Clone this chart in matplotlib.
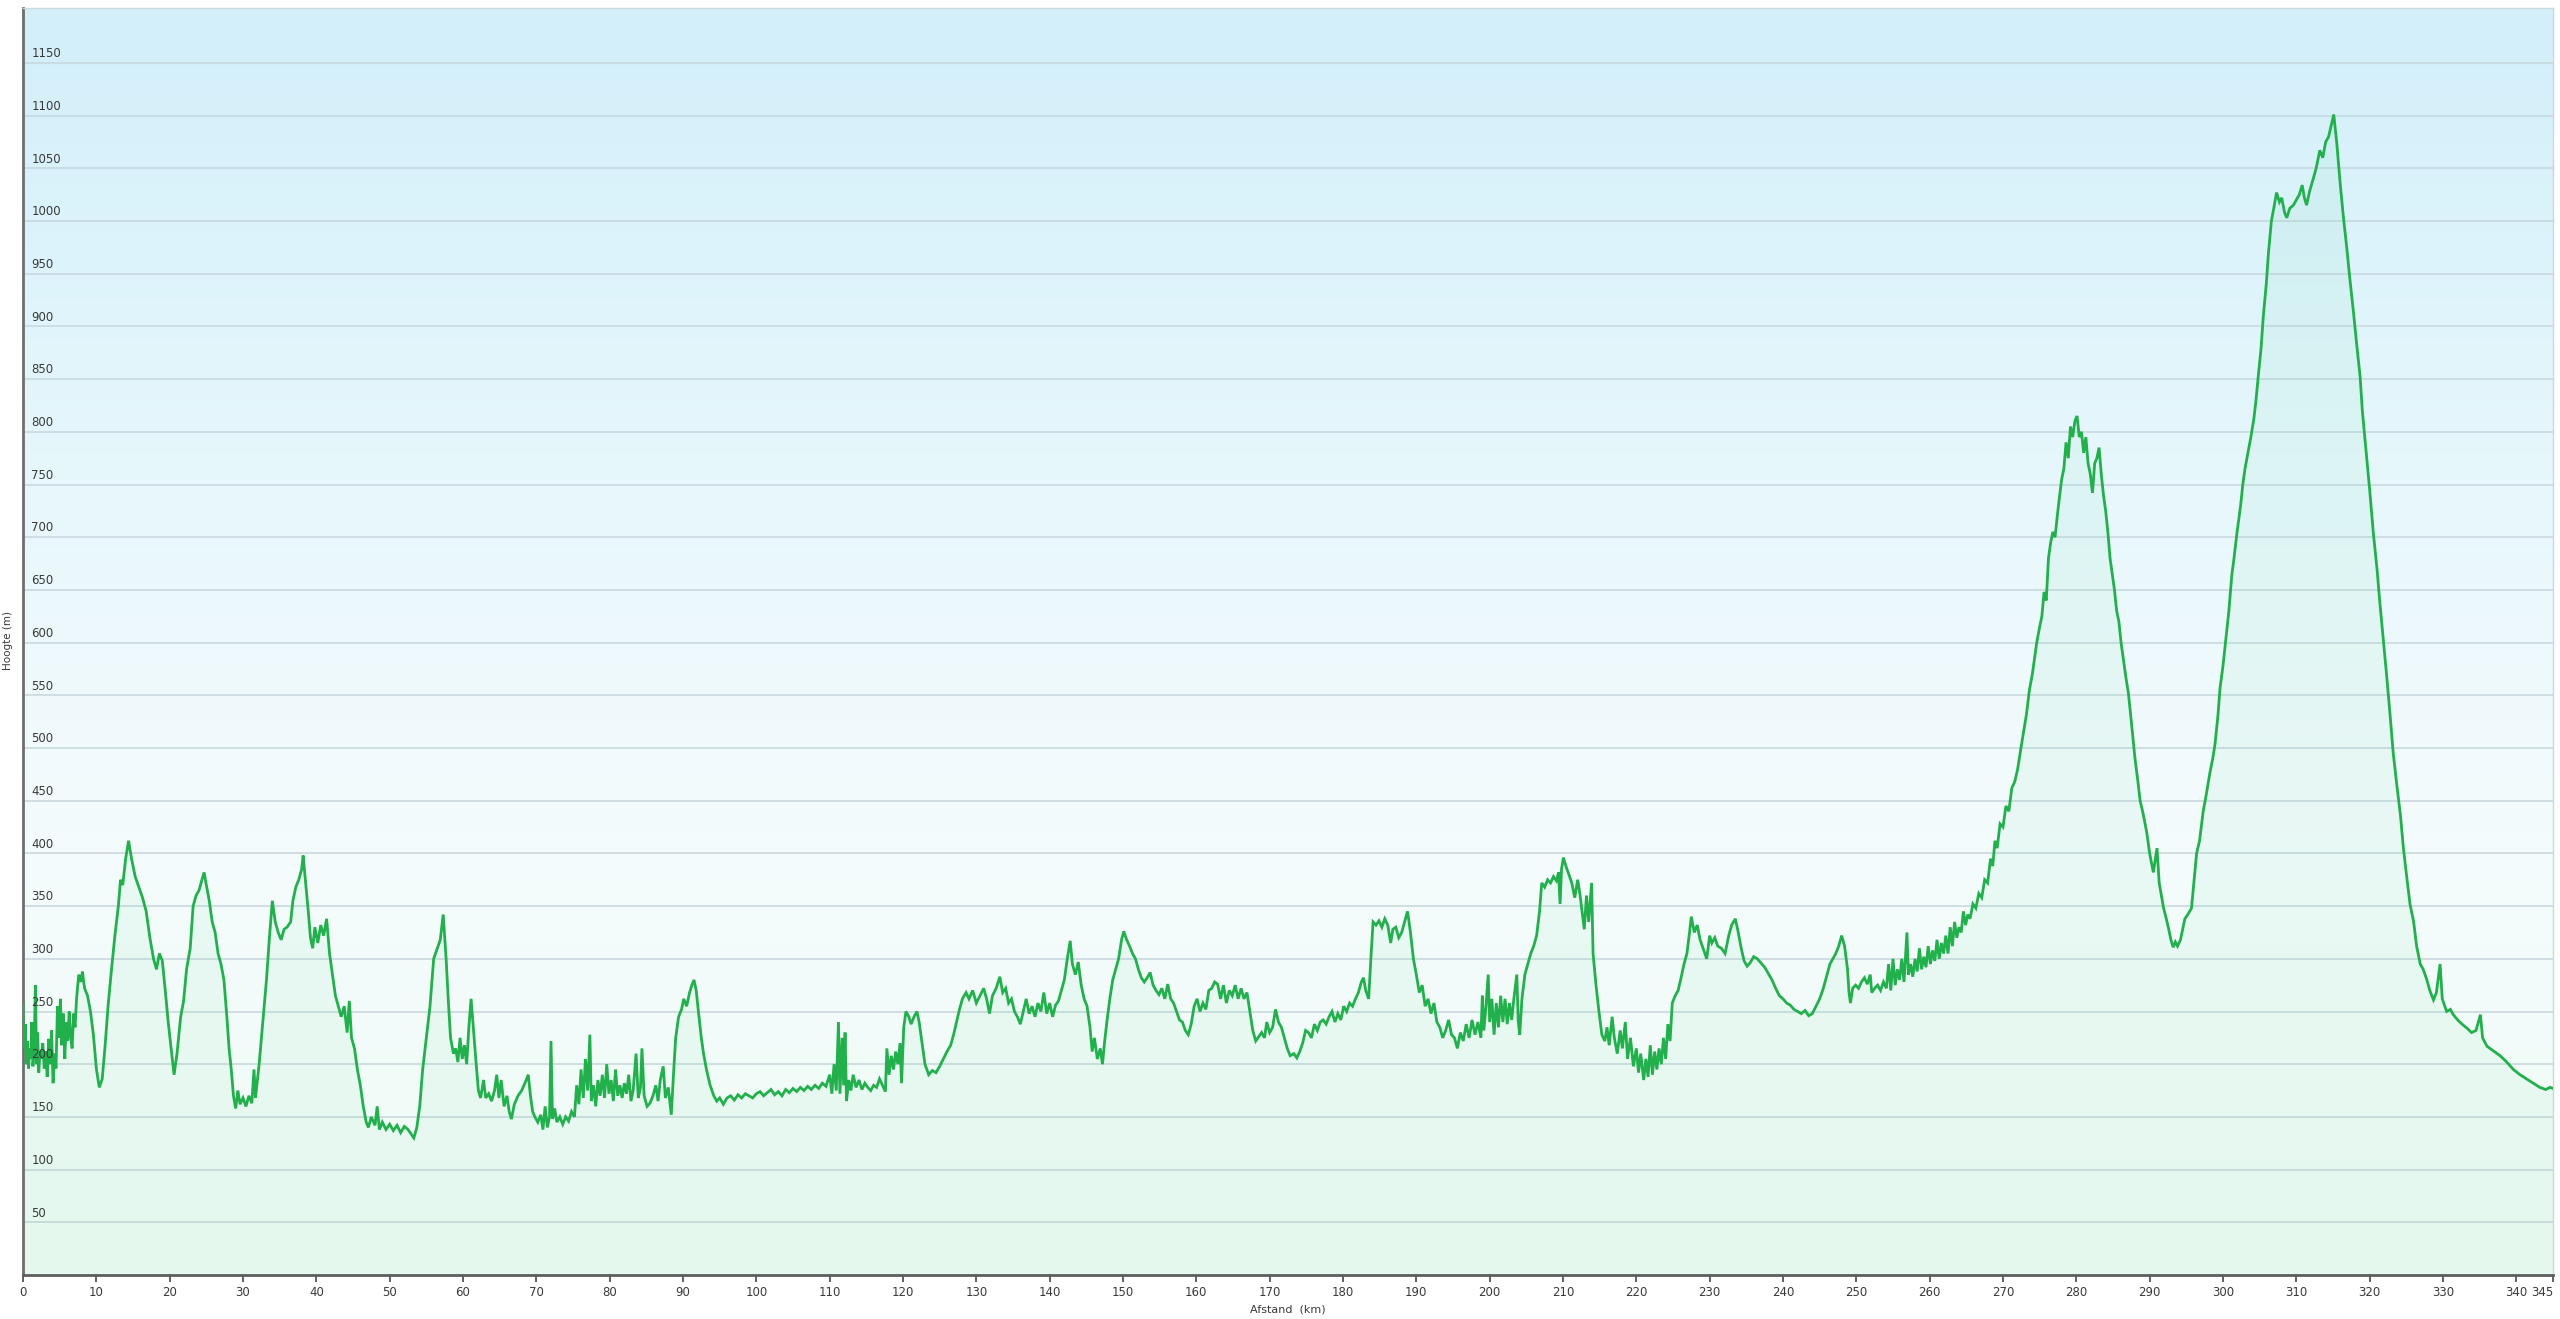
import numpy as np
import matplotlib
matplotlib.use("Agg")
import matplotlib.pyplot as plt
from matplotlib.colors import LinearSegmentedColormap

# ---------------- data ----------------
seg1_km = [0.0, 0.15, 0.3, 0.45, 0.6, 0.75, 0.9, 1.05, 1.2, 1.35, 1.5, 1.7, 1.85, 2.0, 2.15, 2.3, 2.5, 2.7, 2.9, 3.1,
           3.3, 3.5, 3.7, 3.9, 4.1, 4.3, 4.5, 4.7, 4.9, 5.1, 5.3, 5.5, 5.7, 5.9, 6.1, 6.3, 6.5, 6.7, 6.9, 7.1,
           7.3, 7.6, 7.9, 8.1, 8.4, 8.8, 9.2, 9.6, 10.0, 10.4, 10.8, 11.2, 11.6, 12.0, 12.5, 13.0, 13.3, 13.6, 14.0, 14.4,
           14.8, 15.3, 15.8, 16.3, 16.8, 17.3, 17.8, 18.2, 18.6, 19.0, 19.4, 19.8, 20.2, 20.6, 21.0, 21.5, 21.9, 22.3, 22.8, 23.2,
           23.6, 24.0, 24.4, 24.7, 25.0, 25.4, 25.8, 26.2, 26.6, 27.0, 27.4, 27.8, 28.1, 28.4, 28.7, 29.0, 29.3, 29.6, 30.0, 30.4,
           30.8, 31.2, 31.5, 31.7, 32.2, 32.7, 33.2, 33.6, 34.0, 34.4, 34.8, 35.2, 35.6, 36.0, 36.5, 36.8, 37.2, 37.6, 38.0, 38.2,
           38.5, 38.9, 39.2, 39.5, 39.8, 40.2, 40.6, 41.0, 41.4, 41.8, 42.2, 42.6, 43.0, 43.4, 43.8, 44.2, 44.5, 44.8, 45.2, 45.6,
           46.0, 46.4, 46.8, 47.1, 47.5, 48.0, 48.3, 48.6, 49.0, 49.5, 50.0, 50.5, 51.0, 51.5, 52.0, 52.5, 53.0, 53.3, 53.7, 54.1,
           54.5, 55.0, 55.5, 56.0, 56.5, 56.9, 57.3, 57.7, 58.0, 58.3, 58.7]
seg1_m = [258, 215, 238, 200, 222, 196, 215, 205, 240, 198, 212, 275, 200, 230, 192, 212, 205, 220, 196, 212,
          188, 224, 200, 232, 182, 210, 196, 255, 225, 262, 218, 248, 205, 240, 222, 250, 226, 215, 248, 235,
          262, 285, 278, 288, 272, 265, 250, 228, 196, 178, 186, 218, 255, 285, 320, 350, 375, 370, 395, 412,
          395, 378, 368, 358, 345, 320, 300, 290, 305, 298, 270, 240, 215, 190, 210, 245, 260, 290, 310, 350,
          360, 365, 375, 382, 370, 355, 335, 325, 305, 295, 280, 245, 215, 195, 170, 158, 175, 162, 168, 160,
          170, 163, 195, 168, 200, 240, 280, 320, 355, 335, 325, 318, 328, 330, 335, 355, 368, 375, 385, 398,
          375, 345, 320, 310, 330, 315, 332, 322, 338, 305, 285, 265, 255, 245, 255, 230, 260, 225, 215, 195,
          180, 160, 145, 140, 150, 142, 160, 138, 145, 138, 143, 137, 142, 135, 141, 138, 133, 130, 140, 160,
          195, 225, 255, 300, 310, 318, 342, 300, 260, 225, 210]

seg2_km = [59.0, 59.3, 59.6, 59.9, 60.2, 60.5, 60.8, 61.1, 61.4, 61.8, 62.1, 62.4, 62.8, 63.1, 63.5, 63.9, 64.3, 64.6, 64.9, 65.2,
           65.6, 66.0, 66.3, 66.6, 67.0, 67.5, 68.0, 68.5, 68.9, 69.2, 69.5, 69.8, 70.2, 70.6, 70.9, 71.2, 71.5, 71.8, 72.0, 72.2,
           72.5, 72.8, 73.2, 73.6, 74.0, 74.4, 74.8, 75.2, 75.5, 75.8, 76.1, 76.4, 76.7, 77.0, 77.3, 77.5, 77.8, 78.1, 78.4, 78.7,
           79.0, 79.3, 79.6, 79.9, 80.2, 80.5, 80.8, 81.1, 81.4, 81.7, 82.0, 82.3, 82.6, 82.9, 83.2, 83.6, 83.9, 84.2, 84.4, 84.7,
           85.1, 85.5, 85.9, 86.3, 86.6, 86.9, 87.3, 87.6, 88.0, 88.4, 88.7, 89.0, 89.4, 89.8, 90.1, 90.5, 90.9, 91.2, 91.5, 91.8,
           92.1, 92.5, 92.8, 93.2, 93.7, 94.2, 94.6, 95.0, 95.5, 96.0, 96.5, 97.0, 97.5, 98.0, 98.5, 99.0, 99.5, 100.0, 100.5, 101.0,
           101.5, 102.0, 102.5, 103.0, 103.5, 104.0, 104.5, 105.0, 105.5, 106.0, 106.5, 107.0, 107.5, 108.0, 108.5, 109.0, 109.5, 110.0, 110.3, 110.6,
           110.9, 111.2, 111.4, 111.7, 111.9, 112.1, 112.3, 112.6, 112.9, 113.2, 113.6, 114.0, 114.4, 114.8]
seg2_m = [215, 202, 225, 205, 218, 200, 235, 262, 235, 200, 175, 168, 185, 168, 172, 165, 175, 190, 168, 185,
          160, 170, 155, 148, 162, 170, 175, 183, 190, 170, 155, 150, 145, 152, 138, 160, 140, 150, 222, 148,
          158, 145, 150, 143, 150, 146, 155, 150, 180, 162, 195, 168, 205, 175, 228, 165, 180, 160, 185, 170,
          190, 168, 200, 172, 185, 165, 195, 170, 180, 168, 182, 172, 190, 165, 175, 210, 168, 178, 215, 170,
          160, 163, 170, 180, 165, 185, 198, 168, 178, 152, 190, 225, 245, 252, 262, 255, 268, 275, 280, 270,
          250, 225, 210, 195, 180, 170, 165, 168, 162, 168, 170, 166, 171, 168, 172, 170, 168, 172, 174, 170,
          173, 176, 171, 174, 170, 176, 173, 177, 174, 178, 175, 179, 176, 180, 177, 182, 179, 190, 172, 200,
          175, 240, 172, 225, 180, 230, 165, 185, 175, 190, 178, 185, 176, 182]

seg3_km = [115.2, 115.6, 116.0, 116.4, 116.8, 117.2, 117.6, 117.8, 118.1, 118.4, 118.7, 119.0, 119.3, 119.6, 119.8, 120.1, 120.4, 120.8, 121.1, 121.5,
           121.9, 122.2, 122.6, 123.0, 123.5, 124.0, 124.5, 125.0, 125.5, 126.0, 126.5, 126.9, 127.3, 127.7, 128.1, 128.6, 129.0, 129.5, 130.0, 130.5,
           131.0, 131.4, 131.8, 132.2, 132.7, 133.2, 133.6, 134.0, 134.4, 134.8, 135.2, 135.6, 136.0, 136.4, 136.8, 137.2, 137.6, 138.0, 138.4, 138.8,
           139.2, 139.6, 140.0, 140.4, 140.8, 141.2, 141.6, 142.0, 142.4, 142.8, 143.1, 143.5, 143.9, 144.3, 144.7, 145.1, 145.5, 145.8, 146.1, 146.5,
           146.9, 147.2, 147.5, 147.8, 148.2, 148.6, 149.0, 149.4, 149.8, 150.1, 150.5, 150.9, 151.3, 151.7, 152.1, 152.5, 152.9, 153.3, 153.7, 154.1,
           154.5, 154.9, 155.3, 155.7, 156.1, 156.5, 156.9, 157.3, 157.7, 158.1, 158.5, 158.9, 159.3, 159.7, 160.1, 160.5, 160.9, 161.3, 161.7, 162.1,
           162.5, 162.9, 163.3, 163.7, 164.1, 164.5, 164.9, 165.3, 165.7, 166.1, 166.5, 166.9, 167.3, 167.7, 168.1, 168.5, 168.9, 169.3, 169.6, 170.0,
           170.4, 170.8, 171.2, 171.6, 172.0, 172.4, 172.8]
seg3_m = [178, 175, 180, 178, 186, 180, 174, 215, 190, 208, 195, 212, 200, 220, 182, 235, 250, 245, 238, 245,
          250, 240, 220, 200, 190, 194, 192, 198, 205, 212, 218, 228, 240, 252, 262, 268, 262, 270, 258, 265,
          272, 262, 248, 265, 272, 283, 268, 272, 258, 262, 250, 245, 238, 250, 262, 248, 255, 245, 258, 250,
          268, 248, 258, 245, 256, 260, 270, 280, 300, 317, 295, 285, 297, 275, 262, 255, 235, 212, 225, 205,
          215, 200, 222, 240, 262, 280, 290, 300, 318, 326, 318, 312, 305, 300, 290, 282, 278, 282, 287, 275,
          270, 266, 272, 262, 276, 262, 258, 250, 242, 240, 232, 228, 238, 255, 262, 250, 258, 252, 270, 272,
          278, 276, 262, 275, 258, 270, 265, 275, 262, 272, 262, 268, 250, 232, 222, 226, 230, 225, 240, 230,
          235, 252, 240, 235, 225, 215, 208]

seg4_km = [173.3, 173.7, 174.1, 174.5, 174.9, 175.3, 175.7, 176.1, 176.5, 176.9, 177.3, 177.7, 178.1, 178.5, 178.9, 179.3, 179.7, 180.1, 180.5, 180.9,
           181.3, 181.7, 182.1, 182.5, 182.8, 183.1, 183.5, 183.8, 184.1, 184.5, 184.9, 185.3, 185.7, 186.1, 186.5, 186.8, 187.2, 187.6, 188.0, 188.4,
           188.8, 189.2, 189.6, 190.0, 190.4, 190.8, 191.2, 191.6, 192.0, 192.4, 192.8, 193.2, 193.6, 194.0, 194.4, 194.8, 195.2, 195.6, 196.0, 196.4,
           196.8, 197.2, 197.6, 198.0, 198.4, 198.8, 199.0, 199.2, 199.5, 199.8, 200.0, 200.3, 200.6, 200.9, 201.2, 201.5, 201.8, 202.1, 202.4, 202.7,
           203.0, 203.3, 203.7, 203.9, 204.1, 204.4, 204.8, 205.2, 205.6, 206.0, 206.4, 206.8, 207.1, 207.5, 207.9, 208.3, 208.7, 209.1, 209.4, 209.6,
           209.8, 210.05, 210.4, 210.8, 211.2, 211.6, 212.0, 212.3, 212.6, 212.9, 213.2, 213.5, 213.9, 214.1, 214.5, 214.9, 215.3, 215.7, 216.0, 216.3,
           216.7, 217.0, 217.4, 217.8, 218.1, 218.5, 218.8, 219.2, 219.6, 220.0, 220.3, 220.6, 221.0, 221.3, 221.6, 221.9, 222.2, 222.5, 222.8, 223.1,
           223.4, 223.7, 224.0, 224.3, 224.6, 224.9, 225.3, 225.7, 226.1, 226.5, 226.9, 227.2, 227.5, 227.9, 228.3, 228.7]
seg4_m = [210, 206, 212, 220, 232, 230, 225, 238, 232, 240, 242, 238, 245, 250, 240, 248, 242, 255, 250, 258,
          255, 262, 268, 278, 282, 270, 262, 300, 335, 332, 336, 330, 338, 332, 315, 328, 330, 320, 325, 335,
          345, 325, 300, 285, 268, 275, 255, 262, 248, 258, 240, 235, 225, 232, 242, 228, 225, 215, 230, 222,
          238, 225, 242, 228, 240, 225, 265, 232, 255, 285, 240, 262, 228, 258, 235, 265, 240, 262, 238, 258,
          242, 262, 285, 240, 228, 262, 285, 295, 305, 312, 322, 345, 372, 368, 375, 372, 378, 374, 382, 352,
          385, 396, 388, 380, 372, 358, 375, 362, 345, 328, 360, 335, 372, 305, 275, 250, 228, 222, 235, 218,
          245, 225, 210, 232, 215, 240, 205, 225, 198, 215, 192, 210, 185, 205, 188, 218, 190, 212, 195, 215,
          200, 225, 205, 238, 222, 258, 265, 270, 282, 295, 305, 322, 340, 325, 332, 318]

seg5_km = [229.1, 229.6, 230.0, 230.3, 230.7, 231.1, 231.6, 232.1, 232.6, 233.0, 233.5, 233.9, 234.3, 234.7, 235.1, 235.5, 236.0, 236.5, 237.0, 237.5,
           238.0, 238.5, 239.0, 239.5, 240.0, 240.5, 241.0, 241.5, 242.0, 242.5, 243.0, 243.5, 244.0, 244.5, 245.0, 245.5, 246.0, 246.4, 246.8, 247.2,
           247.6, 248.0, 248.4, 248.8, 249.0, 249.2, 249.5, 249.9, 250.3, 250.7, 251.1, 251.5, 251.9, 252.1, 252.5, 252.9, 253.3, 253.7, 254.1, 254.4,
           254.7, 255.0, 255.3, 255.6, 255.9, 256.2, 256.5, 256.9, 257.1, 257.4, 257.7, 258.0, 258.3, 258.6, 258.9, 259.2, 259.5, 259.8, 260.1, 260.4,
           260.7, 261.0, 261.3, 261.6, 261.9, 262.2, 262.5, 262.8, 263.1, 263.4, 263.7, 264.0, 264.3, 264.6, 264.9, 265.2, 265.5, 265.9, 266.3, 266.7,
           267.1, 267.5, 267.9, 268.3, 268.6, 268.9, 269.2, 269.6, 270.0, 270.4, 270.8, 271.2, 271.6, 272.0, 272.4, 272.8, 273.2, 273.6, 274.0, 274.3,
           274.6, 275.0, 275.3, 275.6, 275.9, 276.2, 276.5, 276.8, 277.1, 277.4, 277.7, 278.0, 278.3, 278.6, 278.9, 279.2, 279.5, 279.8, 280.1, 280.4,
           280.7, 281.0, 281.3, 281.6, 281.9, 282.2, 282.5, 282.8, 283.1, 283.4, 283.7, 284.0, 284.3, 284.6, 284.9, 285.2, 285.5, 285.8, 286.1, 286.4,
           286.8, 287.1]
seg5_m = [310, 300, 322, 315, 320, 312, 310, 305, 322, 332, 338, 325, 310, 298, 293, 296, 302, 300, 296, 292,
          286, 280, 272, 265, 262, 258, 256, 252, 250, 248, 251, 246, 248, 255, 262, 272, 285, 295, 300, 305,
          312, 322, 312, 290, 268, 258, 272, 275, 272, 278, 282, 276, 285, 268, 272, 275, 270, 278, 272, 295,
          270, 300, 275, 290, 280, 300, 278, 325, 285, 295, 283, 300, 288, 310, 290, 302, 292, 312, 295, 308,
          298, 318, 300, 315, 305, 322, 305, 330, 312, 335, 320, 330, 325, 345, 332, 342, 338, 352, 348, 362,
          358, 375, 372, 395, 388, 412, 405, 428, 425, 445, 440, 462, 468, 480, 498, 515, 532, 555, 570, 585,
          600, 615, 625, 648, 640, 680, 695, 705, 700, 720, 738, 755, 765, 790, 775, 805, 795, 810, 815, 795,
          800, 780, 795, 770, 760, 742, 770, 775, 785, 760, 740, 725, 705, 680, 665, 650, 630, 620, 600, 585,
          565, 552]

seg6_km = [287.5, 288.0, 288.4, 288.7, 289.1, 289.6, 290.0, 290.5, 291.0, 291.3, 291.6, 291.9, 292.2, 292.6, 292.9, 293.2, 293.5, 293.8, 294.2, 294.5,
           294.8, 295.2, 295.7, 296.0, 296.4, 296.8, 297.3, 297.7, 298.2, 298.6, 298.9, 299.3, 299.6, 300.0, 300.5, 300.8, 301.2, 301.5, 301.9, 302.4,
           302.7, 303.0, 303.4, 303.8, 304.2, 304.5, 304.8, 305.2, 305.5, 305.9, 306.2, 306.6, 307.0, 307.3, 307.7, 308.0, 308.4, 308.7, 309.1, 309.6,
           310.0, 310.4, 310.8, 311.1, 311.4, 311.8, 312.3, 312.7, 313.2, 313.6, 314.0, 314.4, 314.8, 315.1, 315.5, 316.0, 316.4, 316.9, 317.3, 317.8,
           318.2, 318.7, 319.0, 319.4, 320.0, 320.5, 321.0, 321.4, 321.9, 322.3, 322.8, 323.2, 323.7, 324.2, 324.6, 325.1, 325.5, 326.0, 326.4, 326.9,
           327.3, 327.8, 328.2, 328.7, 329.1, 329.6, 329.9, 330.5, 331.0, 331.4, 332.0, 332.6, 333.3, 333.9, 334.5, 335.1, 335.4, 336.0, 337.0, 337.8,
           338.7, 339.6, 340.5, 341.4, 342.3, 343.2, 344.0, 344.6, 345.0]
seg6_m = [525, 490, 468, 450, 438, 420, 400, 382, 405, 372, 360, 348, 340, 328, 318, 311, 316, 312, 318, 328,
          338, 342, 348, 370, 400, 412, 440, 455, 476, 490, 503, 530, 557, 578, 610, 630, 664, 680, 704, 730,
          750, 765, 780, 795, 812, 830, 852, 880, 910, 940, 970, 1000, 1015, 1027, 1018, 1022, 1008, 1003, 1012, 1015,
          1020, 1025, 1034, 1022, 1015, 1028, 1040, 1050, 1067, 1060, 1075, 1080, 1092, 1101, 1075, 1034, 1005, 973, 945, 913,
          885, 852, 820, 790, 745, 704, 670, 637, 600, 570, 530, 496, 465, 436, 405, 375, 352, 335, 312, 295,
          290, 280, 270, 261, 268, 295, 262, 250, 252, 247, 242, 238, 234, 230, 232, 247, 225, 217, 212, 208,
          202, 195, 190, 186, 182, 178, 176, 178, 177]

x_ticks = [0, 10, 20, 30, 40, 50, 60, 70, 80, 90, 100, 110, 120, 130, 140, 150, 160, 170, 180, 190, 200,
           210, 220, 230, 240, 250, 260, 270, 280, 290, 300, 310, 320, 330, 340, 345]
y_ticks = [50, 100, 150, 200, 250, 300, 350, 400, 450, 500, 550, 600, 650, 700, 750, 800, 850, 900, 950,
           1000, 1050, 1100, 1150]

distance_km = np.array(seg1_km + seg2_km + seg3_km + seg4_km + seg5_km + seg6_km)
elevation_m = np.array(seg1_m + seg2_m + seg3_m + seg4_m + seg5_m + seg6_m)

# ---------------- figure ----------------
plt.rcParams['font.family'] = ['DejaVu Sans']
W, H = 2560, 1319
fig = plt.figure(figsize=(W / 100, H / 100), dpi=100)
fig.patch.set_facecolor('white')

ax_l, ax_r, ax_t, ax_b = 23, 2553, 8, 1275
ax = fig.add_axes([ax_l / W, (H - ax_b) / H, (ax_r - ax_l) / W, (ax_b - ax_t) / H])

XMAX = 345
YMAX = (ax_b - ax_t) / 1.054

# background gradient
bg_cmap = LinearSegmentedColormap.from_list(
    'bg', [(0.0, '#f0fcf5'), (0.35, '#f4fbfd'), (0.65, '#e6f7fc'), (1.0, '#d2effa')])
grad = np.linspace(0, 1, 256).reshape(-1, 1)
ax.imshow(grad, extent=[0, XMAX, 0, YMAX], origin='lower', aspect='auto', cmap=bg_cmap, zorder=0)

# grid
for v in y_ticks:
    ax.axhline(v, color='#c6d6dc', lw=1.1, zorder=1)

# area + line
ax.fill_between(distance_km, 0, elevation_m, color='#3ccf80', alpha=0.06, lw=0, zorder=2)
ax.plot(distance_km, elevation_m, color='#22b04c', lw=2.0, zorder=3, solid_joinstyle='miter')

ax.set_xlim(0, XMAX)
ax.set_ylim(0, YMAX)

ax.set_xticks(x_ticks)
ax.set_xticklabels([str(t) for t in x_ticks], fontsize=8.5, color='#3a3a3a')
ax.get_xticklabels()[-1].set_horizontalalignment('right')
ax.tick_params(axis='x', direction='out', length=5, width=1.3, color='#555555', pad=3)
ax.set_yticks([])

for v in y_ticks:
    ax.annotate(str(v), xy=(0, v), xycoords=ax.get_yaxis_transform(),
                xytext=(6, 2), textcoords='offset points', ha='left', va='bottom',
                fontsize=8.5, color='#3a3a3a', zorder=4)

for s in ['top', 'right']:
    ax.spines[s].set_color('#c9d9de')
    ax.spines[s].set_linewidth(1.0)
ax.spines['left'].set_color('#6e6e6e')
ax.spines['left'].set_linewidth(2.0)
ax.spines['bottom'].set_color('#5e5e5e')
ax.spines['bottom'].set_linewidth(2.0)

fig.text(8 / W, 1 - 641 / H, 'Hoogte (m)', rotation=90, ha='center', va='center',
         fontsize=7.5, color='#3a3a3a')
fig.text(1288 / W, 1 - 1309 / H, 'Afstand  (km)', ha='center', va='center',
         fontsize=8, color='#3a3a3a')

fig.savefig('out.png', dpi=100, facecolor='white')
